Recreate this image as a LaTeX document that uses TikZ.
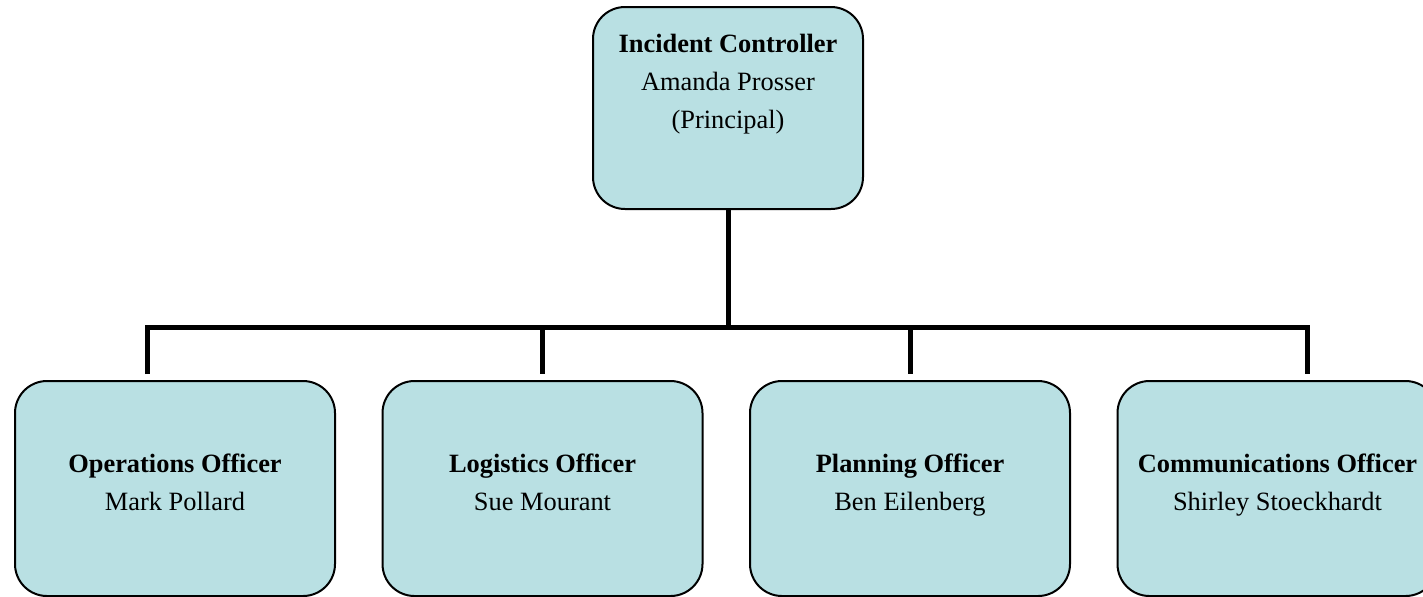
\documentclass[tikz,border=0pt]{standalone}
\usepackage{fontspec}
\setmainfont{Liberation Serif}
\usetikzlibrary{positioning}
\definecolor{boxblue}{RGB}{185,224,227}

\begin{document}
\begin{tikzpicture}[x=0.5pt,y=-0.5pt,node distance=183.75pt,
  officer/.style={rectangle,rounded corners=16pt,draw=black,line width=1pt,fill=boxblue,
    align=center,font=\fontsize{13.2}{19}\selectfont,inner xsep=4pt,inner ysep=0pt,
    minimum width=160pt,text height=64.5pt,text depth=43pt},
  bus line/.style={line width=2.5pt,line join=miter}]

  \useasboundingbox (0,0) rectangle (1423,596);
  \clip (0,0) rectangle (1423,596);

  \node[officer] (ctrl) at (728,108) [minimum width=135pt,text height=60.5pt,text depth=40.5pt]
    {\textbf{Incident Controller}\\Amanda Prosser\\(Principal)};

  \node[officer] (ops) at (175,488.5) {\textbf{Operations Officer}\\Mark Pollard};
  \node[officer] (log) [right of=ops] {\textbf{Logistics Officer}\\Sue Mourant};
  \node[officer] (plan) [right of=log] {\textbf{Planning Officer}\\Ben Eilenberg};
  \node[officer] (comm) [right of=plan] {\textbf{Communications Officer}\\Shirley Stoeckhardt};

  \coordinate (busL) at (147,327);
  \coordinate (busR) at (1307,327);

  \draw[bus line] (ctrl) -- (ctrl |- busL);
  \draw[bus line,shorten <=3pt,shorten >=3pt] (busL |- ops.north) -- (busL) -- (busR) -- (busR |- comm.north);
  \draw[bus line,shorten >=3pt] (log |- busL) -- (log);
  \draw[bus line,shorten >=3pt] (plan |- busL) -- (plan);

\end{tikzpicture}
\end{document}
